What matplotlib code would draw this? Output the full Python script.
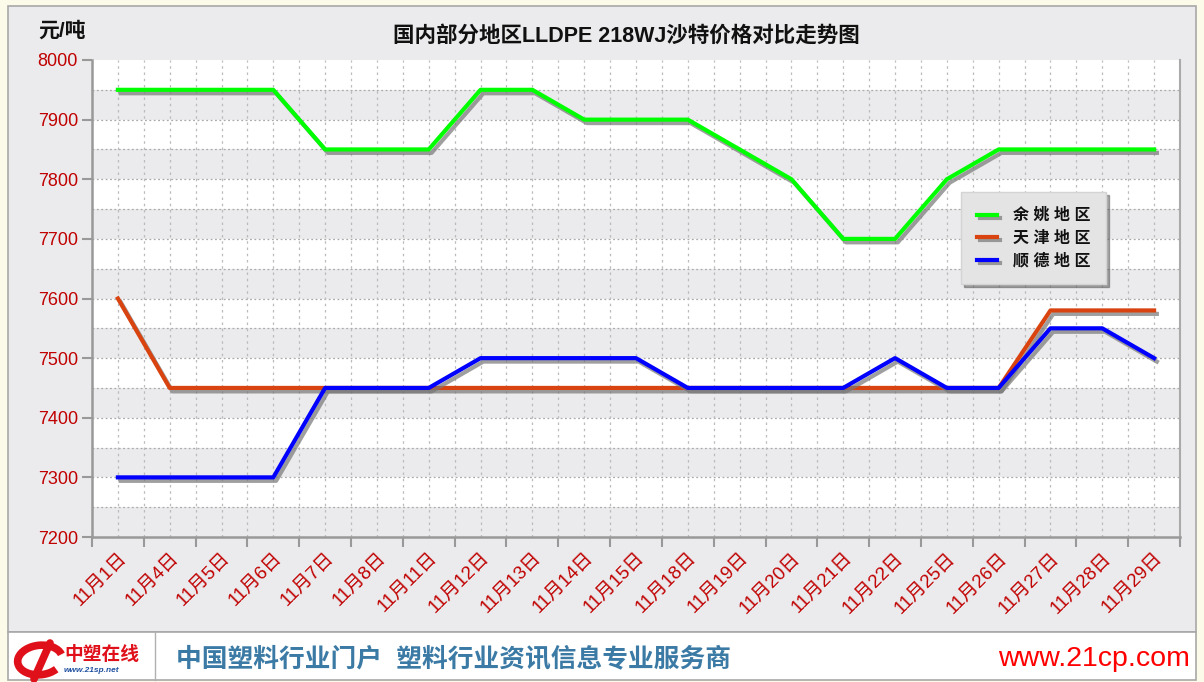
import matplotlib.pyplot as plt
import matplotlib.patheffects as pe
from matplotlib.patches import Rectangle, Arc
from matplotlib.lines import Line2D
import numpy as np

plt.rcParams['font.family'] = ['Liberation Sans', 'Noto Sans CJK SC', 'DejaVu Sans']

# dates on the x axis
dates = ["11月1日", "11月4日", "11月5日", "11月6日", "11月7日", "11月8日", "11月11日",
         "11月12日", "11月13日", "11月14日", "11月15日", "11月18日", "11月19日",
         "11月20日", "11月21日", "11月22日", "11月25日", "11月26日", "11月27日",
         "11月28日", "11月29日"]

# prices, yuan per tonne
yuyao = [7950, 7950, 7950, 7950, 7850, 7850, 7850, 7950, 7950, 7900, 7900, 7900,
         7850, 7800, 7700, 7700, 7800, 7850, 7850, 7850, 7850]
tianjin = [7600, 7450, 7450, 7450, 7450, 7450, 7450, 7450, 7450, 7450, 7450, 7450,
           7450, 7450, 7450, 7450, 7450, 7450, 7580, 7580, 7580]
shunde = [7300, 7300, 7300, 7300, 7450, 7450, 7450, 7500, 7500, 7500, 7500, 7450,
          7450, 7450, 7450, 7500, 7450, 7450, 7550, 7550, 7500]

series_names = ["余 姚 地 区", "天 津 地 区", "顺 德 地 区"]
series_colors = ["#00ff00", "#d9430f", "#0000ff"]

W, H = 1204, 682
fig = plt.figure(figsize=(W / 100, H / 100), dpi=100, facecolor="#fcfae8")


def px(x, y):
    return x / W, 1 - y / H


# chart panel and footer
fig.patches.append(Rectangle(px(8, 632), 1188 / W, 626 / H, transform=fig.transFigure,
                             facecolor="#ebebed", edgecolor="#a8a8a8", lw=1.2, zorder=-10))
fig.patches.append(Rectangle(px(8, 680), 1188 / W, 48 / H, transform=fig.transFigure,
                             facecolor="white", edgecolor="#a8a8a8", lw=1.2, zorder=-10))
fig.add_artist(Line2D([155 / W, 155 / W], [1 - 632 / H, 1 - 680 / H],
                      color="#b0b0b0", lw=1, transform=fig.transFigure))

ax = fig.add_axes([92 / W, 1 - 537 / H, 1088 / W, 477 / H])
ax.set_facecolor("white")

x = np.arange(len(dates))
ax.set_xlim(-0.5, len(dates) - 0.5)
ax.set_ylim(7200, 8000)

# alternating bands
for lo in np.arange(7200, 8000, 100):
    ax.axhspan(lo, lo + 50, color="#ebebed", lw=0, zorder=0)

# grid
for gy in np.arange(7250, 8000, 50):
    ax.axhline(gy, color="#aaaaaa", lw=0.9, ls=(0, (1.5, 2)), zorder=1)
for gx in np.arange(-0.0, len(dates) - 0.5, 0.5):
    ax.axvline(gx, color="#bbbbbb", lw=0.9, ls=(0, (2, 3)), zorder=1)

shadow = [pe.SimpleLineShadow(offset=(2, -2.5), shadow_color="#777777", alpha=0.7),
          pe.Normal()]
for vals, name, col in zip([yuyao, tianjin, shunde], series_names, series_colors):
    ax.plot(x, vals, color=col, lw=3, label=name, zorder=3,
            solid_joinstyle="round", path_effects=shadow)

# ticks
ax.set_yticks(np.arange(7200, 8001, 100))
ax.tick_params(axis="y", colors="#999999", length=7, width=1.5, labelcolor="#c00000",
               labelsize=13, pad=3)
ax.set_xticks(np.arange(-0.5, len(dates), 1))
ax.set_xticklabels([])
ax.tick_params(axis="x", which="major", colors="#999999", length=7, width=1.5)
ax.set_xticks(x, minor=True)
ax.set_xticklabels(dates, minor=True, rotation=45, ha="right", rotation_mode="anchor",
                   color="#c00000", fontsize=13.5)
ax.tick_params(axis="x", which="minor", length=0, pad=9)

for s in ["left", "bottom"]:
    ax.spines[s].set_color("#999999")
    ax.spines[s].set_linewidth(1.8)
ax.spines["right"].set_color("#aaaaaa")
ax.spines["right"].set_linewidth(1.5)
ax.spines["top"].set_visible(False)

leg = ax.legend(loc="upper left", bbox_to_anchor=px(961, 192), bbox_transform=fig.transFigure,
                fancybox=False, shadow={"color": "#555555", "alpha": 0.5}, framealpha=1,
                facecolor="#e4e4e4", edgecolor="#d4d4d4", prop={"size": 11.5, "weight": "bold"},
                handlelength=1.25, handletextpad=1.0, labelspacing=0.45, borderpad=1.0,
                borderaxespad=0)
for t in leg.get_texts():
    t.set_color("#111111")

# texts
fig.text(*px(38, 31), "元/吨", fontsize=15, fontweight="bold", va="center", color="#111111")
fig.text(*px(626, 36), "国内部分地区LLDPE 218WJ沙特价格对比走势图", fontsize=15.5,
         fontweight="bold", ha="center", va="center", color="#111111")

# footer
fig.add_artist(Arc(px(40, 660), 44 / W, 30 / H, angle=-15, theta1=40, theta2=330,
                   color="#e0101a", lw=5.5, transform=fig.transFigure))
fig.add_artist(Line2D([50 / W, 34 / W], [1 - 643 / H, 1 - 679 / H], color="#e0101a",
                      lw=5.5, transform=fig.transFigure, solid_capstyle="round"))
fig.text(*px(64, 655), "中塑在线", fontsize=13.5, fontweight="bold", style="italic",
         color="#e0101a", va="center")
fig.text(*px(64, 671), "www.21sp.net", fontsize=6, style="italic", fontweight="bold",
         color="#2050a0", va="center")
fig.text(*px(176, 659), "中国塑料行业门户  塑料行业资讯信息专业服务商", fontsize=18.5,
         fontweight="bold", color="#3a7aa5", va="center")
fig.text(*px(1190, 659), "www.21cp.com", fontsize=20.5, color="#ff0000", ha="right",
         va="center")

fig.savefig("out.png", dpi=100, facecolor=fig.get_facecolor())
